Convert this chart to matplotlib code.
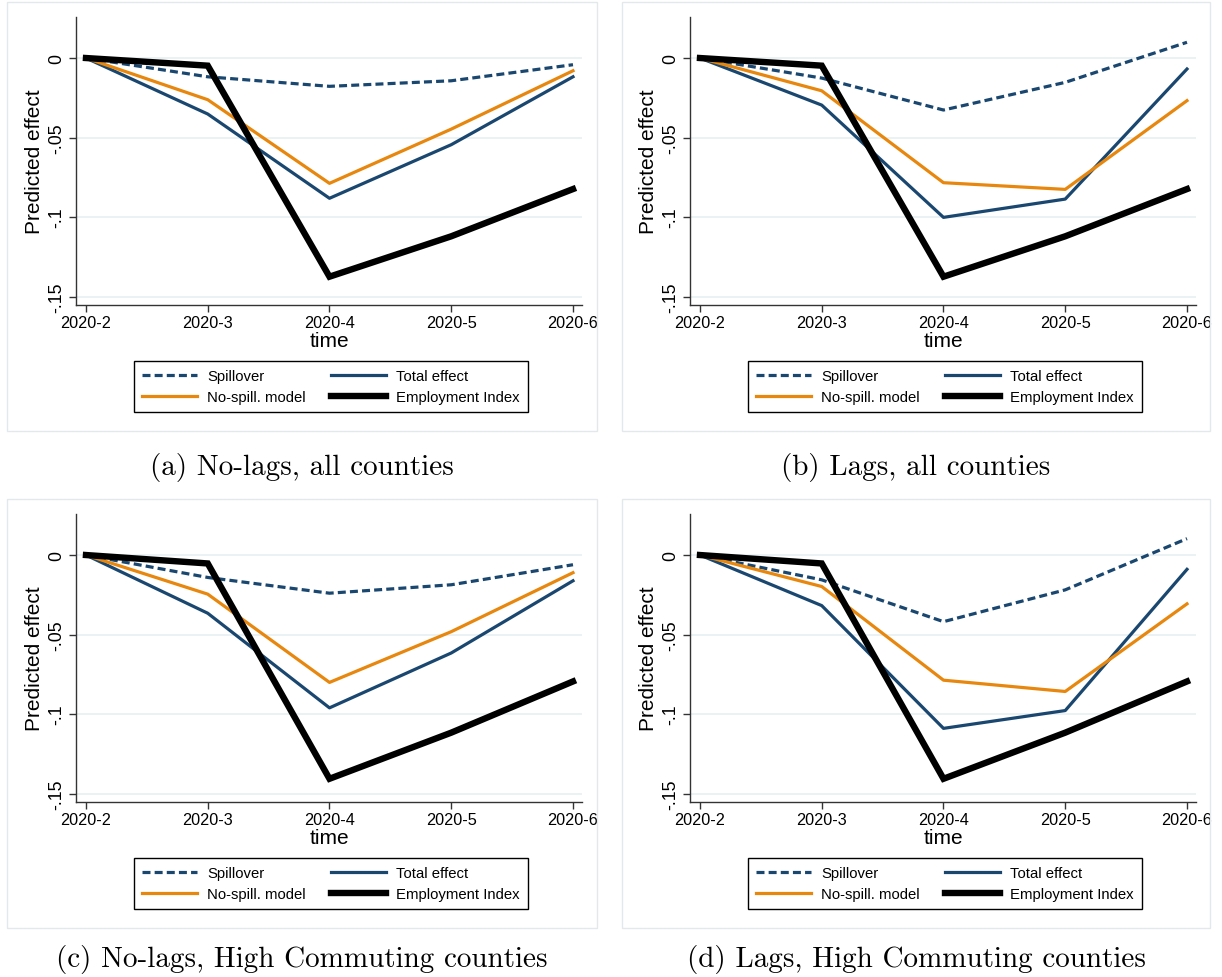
import matplotlib
matplotlib.use("Agg")
import matplotlib.pyplot as plt
from matplotlib.patches import Rectangle

# ---------------- data ----------------
months = ["2020-2", "2020-3", "2020-4", "2020-5", "2020-6"]
yticks = [0, -0.05, -0.1, -0.15]
ytick_labels = ["0", "-.05", "-.1", "-.15"]
series_names = ["Spillover", "Total effect", "No-spill. model", "Employment Index"]

# (a) No-lags, all counties
a_spill = [0, -0.0118, -0.0178, -0.0143, -0.0042]
a_total = [0, -0.0352, -0.0882, -0.0545, -0.0118]
a_nospill = [0, -0.0262, -0.0788, -0.0447, -0.0080]
a_emp = [0, -0.0048, -0.1375, -0.1121, -0.0824]

# (b) Lags, all counties
b_spill = [0, -0.0126, -0.0327, -0.0153, 0.0099]
b_total = [0, -0.0296, -0.1002, -0.0887, -0.0069]
b_nospill = [0, -0.0206, -0.0784, -0.0826, -0.0268]
b_emp = [0, -0.0048, -0.1375, -0.1121, -0.0824]

# (c) No-lags, High Commuting counties
c_spill = [0, -0.0141, -0.0240, -0.0187, -0.0061]
c_total = [0, -0.0366, -0.0961, -0.0616, -0.0162]
c_nospill = [0, -0.0246, -0.0801, -0.0482, -0.0111]
c_emp = [0, -0.0053, -0.1407, -0.1117, -0.0795]

# (d) Lags, High Commuting counties
d_spill = [0, -0.0156, -0.0419, -0.0219, 0.0103]
d_total = [0, -0.0318, -0.1090, -0.0978, -0.0090]
d_nospill = [0, -0.0198, -0.0787, -0.0858, -0.0307]
d_emp = [0, -0.0053, -0.1407, -0.1117, -0.0795]

captions = ["(a) No-lags, all counties", "(b) Lags, all counties",
            "(c) No-lags, High Commuting counties", "(d) Lags, High Commuting counties"]

panels = [
    (a_spill, a_total, a_nospill, a_emp),
    (b_spill, b_total, b_nospill, b_emp),
    (c_spill, c_total, c_nospill, c_emp),
    (d_spill, d_total, d_nospill, d_emp),
]

# ---------------- style ----------------
NAVY = "#1a476f"
ORANGE = "#e8870e"
GRID = "#e8f0f1"
FRAME = "#e3e9eb"
SANS = ["Liberation Sans", "DejaVu Sans"]

W, H = 1222, 978
fig = plt.figure(figsize=(W / 100, H / 100), dpi=100)
fig.patch.set_facecolor("white")

def fx(px):
    return px / W

def fy(py):
    return 1 - py / H

# pixel layout
cols = [(76, 7, 597, 302), (690, 622, 1210, 916)]
rows = [(0, 475), (497, 967)]

for i, (spill, total, nospill, emp) in enumerate(panels):
    r, c = divmod(i, 2)
    ax_left, box_l, box_r, cap_x = cols[c]
    off, cap_y = rows[r]
    ax_top = 18 + off
    ax_bot = 306 + off
    ax_w = 506

    # panel frame
    fig.patches.append(Rectangle((fx(box_l), fy(432 + off)), fx(box_r - box_l),
                                 429 / H, transform=fig.transFigure,
                                 facecolor="none", edgecolor=FRAME, lw=1.0))

    ax = fig.add_axes([fx(ax_left), fy(ax_bot), fx(ax_w), (ax_bot - ax_top) / H])
    x = list(range(len(months)))
    l1, = ax.plot(x, spill, color=NAVY, lw=2.3, linestyle=(0, (2.5, 1.3)),
                  dash_capstyle="butt", label=series_names[0], zorder=3)
    l2, = ax.plot(x, total, color=NAVY, lw=2.3, label=series_names[1], zorder=3)
    l3, = ax.plot(x, nospill, color=ORANGE, lw=2.3, label=series_names[2], zorder=3)
    l4, = ax.plot(x, emp, color="black", lw=4.6, label=series_names[3], zorder=4,
                  solid_joinstyle="miter")

    ax.set_xlim(-0.082, 4.074)
    ax.set_ylim(-0.1553, 0.0258)
    ax.set_xticks(x)
    ax.set_xticklabels(months, fontsize=11.7, family=SANS)
    ax.set_yticks(yticks)
    ax.set_yticklabels(ytick_labels, fontsize=12.8, family=SANS, rotation=90, va="center")
    ax.tick_params(axis="both", length=5, width=1, color="#333333", direction="out")
    ax.tick_params(axis="x", pad=2)
    ax.tick_params(axis="y", pad=3)
    for s in ["top", "right"]:
        ax.spines[s].set_visible(False)
    for s in ["left", "bottom"]:
        ax.spines[s].set_color("#333333")
        ax.spines[s].set_linewidth(1)
    ax.grid(axis="y", color=GRID, lw=1.2)
    ax.set_axisbelow(True)
    ax.set_xlabel("time", fontsize=15, family=SANS, labelpad=1)
    ax.set_ylabel("Predicted effect", fontsize=15, family=SANS, labelpad=3)

    leg = fig.legend(handles=[l1, l3, l2, l4],
                     labels=[series_names[0], series_names[2], series_names[1], series_names[3]],
                     ncol=2, loc="center",
                     bbox_to_anchor=(fx(ax_left + ax_w / 2 + 2), fy(387.5 + off)),
                     bbox_transform=fig.transFigure,
                     prop={"family": SANS, "size": 10.7},
                     handlelength=3.7, handletextpad=0.67, columnspacing=1.7,
                     borderpad=0.55, labelspacing=0.5, frameon=True, fancybox=False,
                     edgecolor="black", framealpha=1)
    leg.get_frame().set_linewidth(1.0)

    fig.text(fx(cap_x), fy(cap_y), captions[i], ha="center", va="baseline",
             fontsize=21, family=["cmr10", "DejaVu Serif"])

fig.savefig("out.png", dpi=100)
